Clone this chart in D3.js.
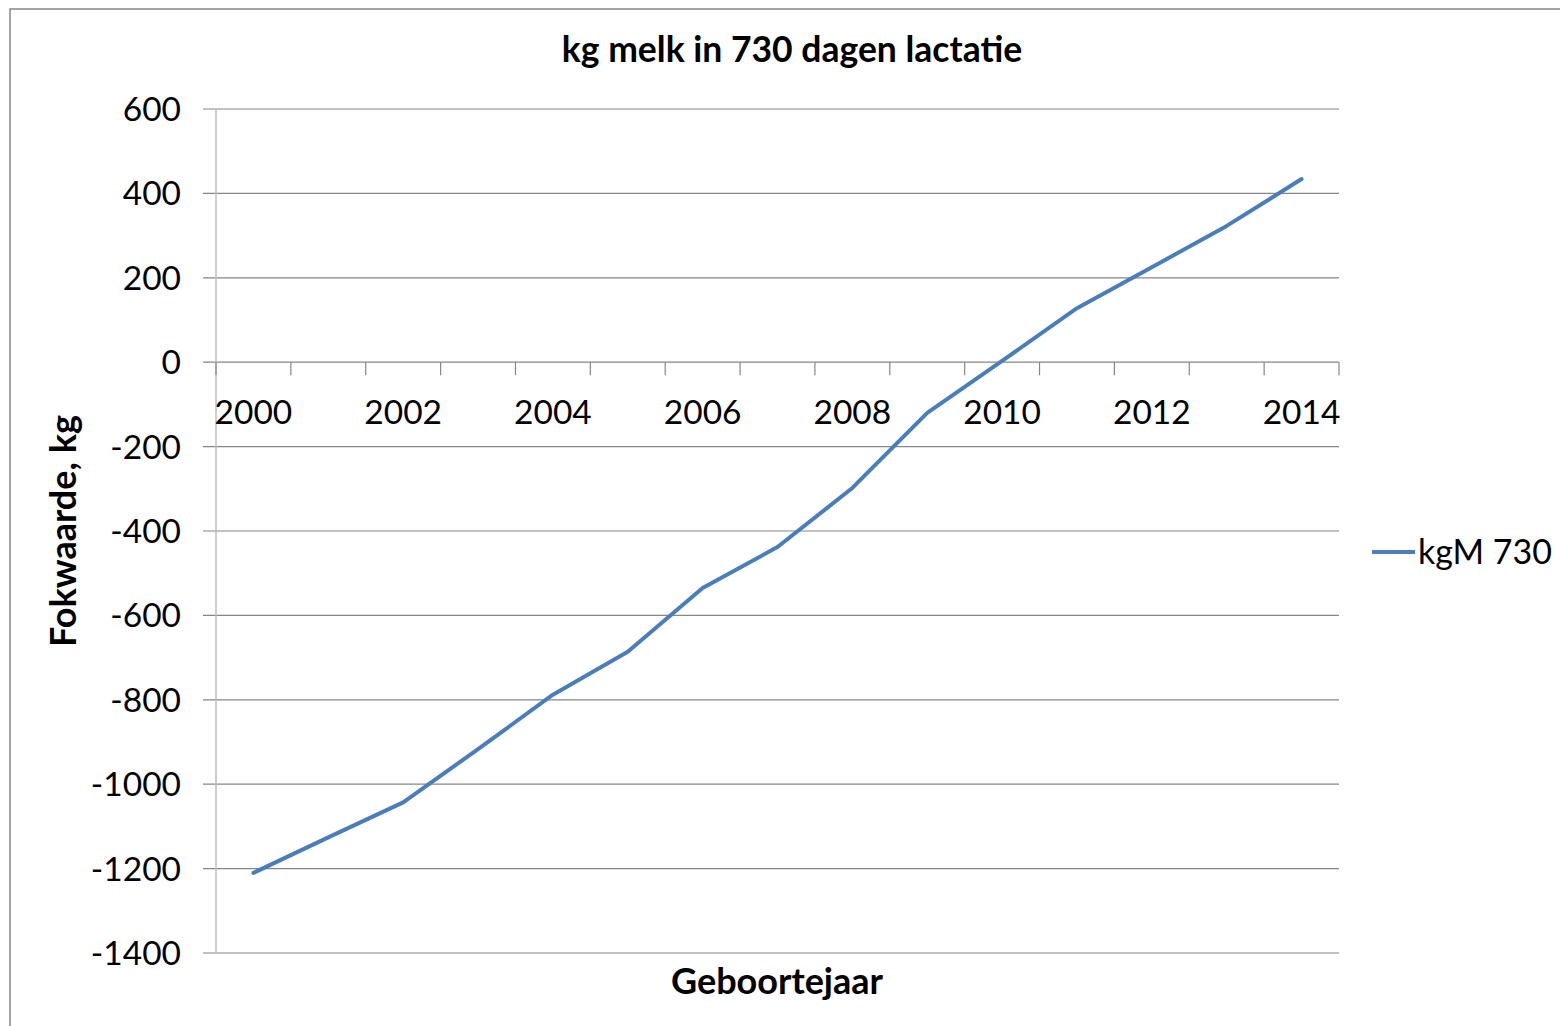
<!DOCTYPE html>
<html><head><meta charset="utf-8">
<script src="https://cdn.jsdelivr.net/npm/d3@7"></script>
<style>body{margin:0;background:#fff}svg{display:block}text{font-family:Lato,"Open Sans",sans-serif}</style>
</head><body>
<svg id="c" width="1560" height="1026"></svg>
<script>
const years = [2000,2001,2002,2003,2004,2005,2006,2007,2008,2009,2010,2011,2012,2013,2014];
const values = [-1210,-1126,-1043,-917,-788,-686,-535,-438,-298,-120,3,128,225,323,434];
const yTicks = [600,400,200,0,-200,-400,-600,-800,-1000,-1200,-1400];
const xLabelYears = [2000,2002,2004,2006,2008,2010,2012,2014];
const seriesName = "kgM 730";

const svg = d3.select("#c");
const L=216, R=1339, T=109, B=953;
svg.append("rect").attr("x",10).attr("y",9).attr("width",1560).attr("height",1040)
  .attr("fill","#fff").attr("stroke","#868686").attr("stroke-width",1.5);

const x = d3.scaleBand().domain(years).range([L,R]).paddingInner(0).paddingOuter(0);
const y = d3.scaleLinear().domain([-1400,600]).range([B,T]);

svg.append("g").selectAll("line").data(yTicks).join("line")
  .attr("x1",L-13).attr("x2",R).attr("y1",d=>y(d)).attr("y2",d=>y(d))
  .attr("stroke","#868686").attr("stroke-width",1.2);
svg.append("line").attr("x1",L).attr("x2",L).attr("y1",T).attr("y2",B).attr("stroke","#bcbcbc").attr("stroke-width",1.5);
svg.append("g").selectAll("text").data(yTicks).join("text")
  .attr("x",L-35).attr("y",d=>y(d)).attr("dy","0.36em").attr("text-anchor","end")
  .attr("font-size",33.5).attr("fill","#000").text(d=>d);
const bounds = years.map(d=>x(d)).concat([x(years[years.length-1])+x.bandwidth()]);
svg.append("g").selectAll("line").data(bounds).join("line")
  .attr("x1",d=>d).attr("x2",d=>d).attr("y1",y(0)).attr("y2",y(0)+13)
  .attr("stroke","#868686").attr("stroke-width",1.2);
svg.append("g").selectAll("text").data(xLabelYears).join("text")
  .attr("x",d=>x(d)+x.bandwidth()/2).attr("y",y(0)+62).attr("text-anchor","middle")
  .attr("font-size",33.5).attr("fill","#000").text(d=>d);

const line = d3.line().x((d,i)=>x(years[i])+x.bandwidth()/2).y(d=>y(d));
svg.append("path").datum(values).attr("d",line).attr("fill","none")
  .attr("stroke","#4a7ebb").attr("stroke-width",4).attr("stroke-linejoin","round").attr("stroke-linecap","round");

svg.append("text").attr("x",792).attr("y",62).attr("text-anchor","middle").attr("font-size",35.5).attr("font-weight","bold").text("kg melk in 730 dagen lactatie");
svg.append("text").attr("x",777).attr("y",994).attr("text-anchor","middle").attr("font-size",36).attr("font-weight","bold").text("Geboortejaar");
svg.append("text").attr("transform","translate(76,531) rotate(-90)").attr("text-anchor","middle").attr("font-size",36).attr("font-weight","bold").text("Fokwaarde, kg");

svg.append("line").attr("x1",1372).attr("x2",1415).attr("y1",552).attr("y2",552).attr("stroke","#4a7ebb").attr("stroke-width",4);
svg.append("text").attr("x",1418).attr("y",552).attr("dy","0.36em").attr("font-size",34).text(seriesName);
</script>
</body></html>
